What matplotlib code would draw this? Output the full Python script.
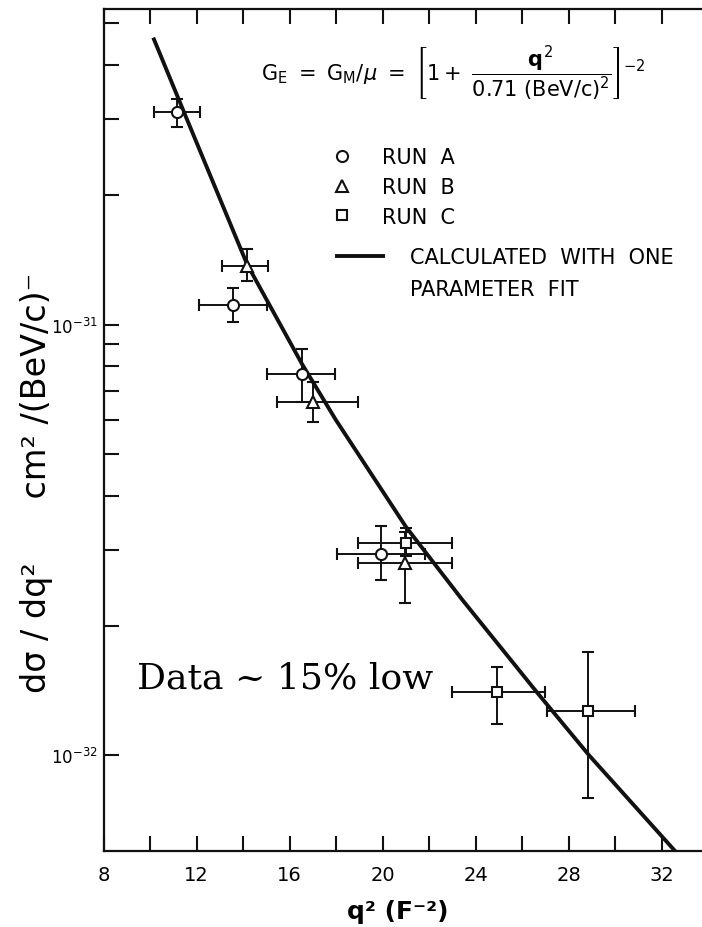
import numpy as np
import matplotlib.pyplot as plt
from matplotlib.ticker import FixedLocator, NullFormatter
from matplotlib.lines import Line2D

plt.rcParams['font.family'] = ['DejaVu Sans']
plt.rcParams['mathtext.fontset'] = 'dejavusans'

# Run A (circles): q^2, dsigma/dq^2 and error bar ends
qa = [11.16, 13.57, 16.53, 19.93]
qa_lo = [10.17, 12.11, 15.03, 18.04]
qa_hi = [12.15, 15.03, 17.95, 21.82]
sa = [3.11e-31, 1.11e-31, 7.68e-32, 2.94e-32]
sa_lo = [2.87e-31, 1.013e-31, 6.61e-32, 2.55e-32]
sa_hi = [3.33e-31, 1.216e-31, 8.77e-32, 3.41e-32]

# Run B (triangles)
qb = [14.17, 17.0, 20.96]
qb_lo = [13.09, 15.46, 18.94]
qb_hi = [15.07, 18.94, 22.98]
sb = [1.37e-31, 6.61e-32, 2.80e-32]
sb_lo = [1.26e-31, 5.94e-32, 2.26e-32]
sb_hi = [1.50e-31, 7.36e-32, 3.30e-32]

# Run C (squares)
qc = [21.0, 24.91, 28.82]
qc_lo = [18.94, 22.98, 27.06]
qc_hi = [22.98, 26.97, 30.84]
sc = [3.12e-32, 1.40e-32, 1.27e-32]
sc_lo = [2.90e-32, 1.18e-32, 7.96e-33]
sc_hi = [3.37e-32, 1.60e-32, 1.74e-32]

# one parameter fit curve
q_fit = [10.17, 11.46, 14.17, 16.53, 17.99, 21.0, 23.41, 26.63, 28.87, 32.56]
s_fit = [4.59e-31, 3.11e-31, 1.38e-31, 8.1e-32, 6.0e-32, 3.39e-32,
         2.30e-32, 1.40e-32, 1.00e-32, 6.0e-33]

fig = plt.figure(figsize=(7.02, 9.28), dpi=100)
ax = fig.add_axes([103.5 / 702, 76 / 928, 616.7 / 702, 842 / 928])

ax.set_yscale('log')
ax.set_xlim(8, 34.5)
ax.set_ylim(6.0e-33, 5.40e-31)

ax.plot(q_fit, s_fit, color='#111111', lw=2.8, zorder=2)


def runs(q, lo, hi, s, slo, shi, marker, ms):
    xerr = [np.subtract(q, lo), np.subtract(hi, q)]
    yerr = [np.subtract(s, slo), np.subtract(shi, s)]
    ax.errorbar(q, s, xerr=xerr, yerr=yerr, fmt=marker, ms=ms, mfc='white',
                mec='#111111', mew=1.5, ecolor='#111111', elinewidth=1.4,
                capsize=4, capthick=1.6, zorder=3)


runs(qa, qa_lo, qa_hi, sa, sa_lo, sa_hi, 'o', 8)
runs(qb, qb_lo, qb_hi, sb, sb_lo, sb_hi, '^', 8.5)
runs(qc, qc_lo, qc_hi, sc, sc_lo, sc_hi, 's', 7)

# ticks
ax.xaxis.set_major_locator(FixedLocator([8, 12, 16, 20, 24, 28, 32]))
ax.xaxis.set_minor_locator(FixedLocator([10, 14, 18, 22, 26, 30]))
ax.yaxis.set_major_locator(FixedLocator([1e-32, 1e-31]))
ax.yaxis.set_minor_locator(FixedLocator(
    [k * 1e-32 for k in range(2, 10)] + [k * 1e-31 for k in range(2, 6)]))
ax.yaxis.set_minor_formatter(NullFormatter())
ax.set_yticklabels([r'$10^{-32}$', r'$10^{-31}$'])
ax.tick_params(which='both', direction='in', top=True, right=True,
               length=11, width=1.5, color='#111111')
ax.tick_params(axis='x', labelsize=14, pad=10)
ax.tick_params(axis='y', labelsize=12, pad=4)
for sp in ax.spines.values():
    sp.set_linewidth(1.6)
    sp.set_color('#111111')

ax.set_xlabel('q² (F⁻²)', fontsize=18, fontweight='bold', va='center')
ax.xaxis.set_label_coords(0.4776, -0.071)
ax.set_ylabel('dσ / dq²      cm² /(BeV/c)⁻', fontsize=24, ha='center', va='center')
ax.yaxis.set_label_coords(-0.108, 0.438)

# formula
ax.text(0.567, 0.924,
        r'$\mathrm{G_E\ =\ G_M/}\mu\ =\ \left[1+\ \dfrac{\mathbf{q}^2}{0.71\ (\mathrm{BeV/c})^2}\right]^{-2}$',
        transform=ax.transAxes, ha='center', va='center', fontsize=15)

# legends
h_runs = [Line2D([], [], ls='none', marker=m, ms=ms, mfc='white', mec='#111111', mew=1.5)
          for m, ms in [('o', 8), ('^', 8.5), ('s', 7)]]
leg1 = ax.legend(h_runs, ['RUN  A', 'RUN  B', 'RUN  C'], loc='upper left',
                 bbox_to_anchor=(0.370, 0.836), frameon=False, fontsize=15,
                 handlelength=1.0, handletextpad=1.42, labelspacing=0.47,
                 borderpad=0, borderaxespad=0)
ax.add_artist(leg1)
h_fit = [Line2D([], [], color='#111111', lw=2.8), Line2D([], [], color='none')]
ax.legend(h_fit, ['CALCULATED  WITH  ONE', 'PARAMETER  FIT'], loc='upper left',
          bbox_to_anchor=(0.379, 0.717), frameon=False, fontsize=15,
          handlelength=2.2, handletextpad=1.3, labelspacing=0.56,
          borderpad=0, borderaxespad=0)

ax.text(0.0543, 0.1936, 'Data ~ 15% low', transform=ax.transAxes,
        family='DejaVu Serif', fontsize=26, ha='left', va='baseline')

fig.savefig('out.png', dpi=100)
